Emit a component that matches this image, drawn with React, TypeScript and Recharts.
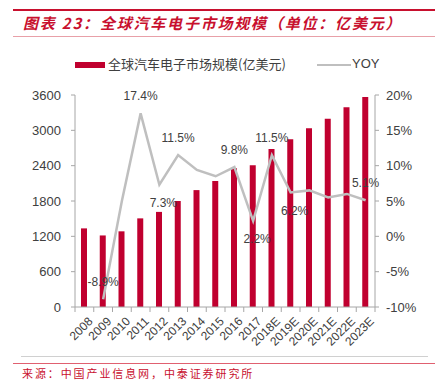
import React from "react";
import { ComposedChart, Bar, Line, XAxis, YAxis, LabelList } from "recharts";

const years = ["2008","2009","2010","2011","2012","2013","2014","2015","2016","2017","2018E","2019E","2020E","2021E","2022E","2023E"];
const marketSize = [1335,1215,1285,1505,1615,1800,1985,2140,2355,2405,2685,2850,3035,3195,3390,3565];
const yoy = [null,-8.9,5.0,17.4,7.3,11.5,9.4,8.5,9.8,2.2,11.5,6.2,6.5,5.5,6.0,5.1];
const yoyLabelAbove = [1,3,5,8,10,15];
const yoyLabelBelow = [4,9,11];
const leftTicks = [0,600,1200,1800,2400,3000,3600];
const rightTicks = [-10,-5,0,5,10,15,20];

const data = years.map((y, i) => ({ year: y, size: marketSize[i], yoy: yoy[i] }));

const W = 437, H = 381;
const M = { top: 95, right: 0, bottom: 29, left: 15 };
const LEFT_W = 60, RIGHT_W = 62, X_H = 45;
const plotW = W - M.left - M.right - LEFT_W - RIGHT_W;
const band = plotW / years.length;

const RED = "#C0002F";
const TXT = "#404040";
const AXIS = "#A6A6A6";
const FONT = "'Liberation Sans', Arial, sans-serif";
const CJK = "'Noto Sans CJK SC', sans-serif";

const XTick = (props: any) => {
  const { x, y, payload, index } = props;
  const lines = [x - band / 2];
  if (index === years.length - 1) lines.push(x + band / 2);
  return (
    <g>
      {lines.map((lx, i) => (
        <line key={i} x1={lx} x2={lx} y1={y} y2={y + 5} stroke={AXIS} strokeWidth={1} />
      ))}
      <text x={x + 3} y={y + 9} textAnchor="end" transform={`rotate(-45 ${x + 3} ${y + 9})`} fontSize={12} fill={TXT} fontFamily={FONT} dy="0.71em">
        {payload.value}
      </text>
    </g>
  );
};

const YoyLabel = (props: any) => {
  const { x, y, index, value } = props;
  if (value == null) return null;
  if (yoyLabelAbove.includes(index)) {
    return <text x={x} y={y - 13} textAnchor="middle" fontSize={12} fill={TXT} fontFamily={FONT}>{`${value.toFixed(1)}%`}</text>;
  }
  if (yoyLabelBelow.includes(index)) {
    return <text x={x + 4} y={y + 22} textAnchor="middle" fontSize={12} fill={TXT} fontFamily={FONT}>{`${value.toFixed(1)}%`}</text>;
  }
  return null;
};

export default function App() {
  return (
    <div style={{ position: "absolute", left: 0, top: 0, width: W, height: H, background: "#fff", overflow: "hidden" }}>
      <div style={{ position: "absolute", left: 13, top: 9, width: 422, height: 2, background: "#C8102E" }} />
      <div style={{ position: "absolute", left: 23, top: 12, fontFamily: CJK, fontStyle: "italic", fontWeight: 700, fontSize: 15, color: "#C8102E", whiteSpace: "nowrap", letterSpacing: 1.8, lineHeight: "22px" }}>
        图表 23：全球汽车电子市场规模（单位：亿美元）
      </div>
      <div style={{ position: "absolute", left: 13, top: 36, width: 422, height: 1, background: "#E8A0A8" }} />

      <div style={{ position: "absolute", left: 75, top: 62, width: 30, height: 6, background: RED }} />
      <div style={{ position: "absolute", left: 108, top: 55, fontFamily: CJK, fontSize: 13, color: TXT, whiteSpace: "nowrap", lineHeight: "18px" }}>
        全球汽车电子市场规模(亿美元)
      </div>
      <div style={{ position: "absolute", left: 317, top: 64, width: 34, height: 2, background: "#BFBFBF" }} />
      <div style={{ position: "absolute", left: 352, top: 55, fontFamily: FONT, fontSize: 13, color: TXT, whiteSpace: "nowrap", lineHeight: "18px" }}>
        YOY
      </div>

      <div style={{ position: "absolute", left: 0, top: 0 }}>
        <ComposedChart width={W} height={H} data={data} margin={M}>
          <XAxis dataKey="year" xAxisId="x" height={X_H} interval={0} tickLine={false} tickSize={0} tickMargin={0}
            axisLine={{ stroke: AXIS }} tick={<XTick />} />
          <YAxis yAxisId="l" orientation="left" width={LEFT_W} domain={[0, 3600]} ticks={leftTicks} interval={0}
            axisLine={{ stroke: AXIS }} tickLine={{ stroke: AXIS }} tickSize={4} tickMargin={10}
            tick={{ fontSize: 13, fill: TXT, fontFamily: FONT }} />
          <YAxis yAxisId="r" orientation="right" width={RIGHT_W} domain={[-10, 20]} ticks={rightTicks} interval={0}
            axisLine={{ stroke: AXIS }} tickLine={{ stroke: AXIS }} tickSize={4} tickMargin={7}
            tickFormatter={(v: number) => `${v}%`}
            tick={{ fontSize: 13, fill: TXT, fontFamily: FONT }} />
          <Bar xAxisId="x" yAxisId="l" dataKey="size" fill={RED} barSize={6} isAnimationActive={false} />
          <Line xAxisId="x" yAxisId="r" dataKey="yoy" stroke="#BFBFBF" strokeWidth={2.5} dot={false} isAnimationActive={false} connectNulls={false}>
            <LabelList dataKey="yoy" content={<YoyLabel />} />
          </Line>
        </ComposedChart>
      </div>

      <div style={{ position: "absolute", left: 21, top: 356, width: 407, height: 1, background: "#D0D0D0" }} />
      <div style={{ position: "absolute", left: 13, top: 363, width: 422, height: 1, background: "#E06070" }} />
      <div style={{ position: "absolute", left: 22, top: 367, fontFamily: CJK, fontSize: 11, color: "#C8102E", whiteSpace: "nowrap", letterSpacing: 1.9, lineHeight: "13px" }}>
        来源：中国产业信息网，中泰证券研究所
      </div>
    </div>
  );
}
